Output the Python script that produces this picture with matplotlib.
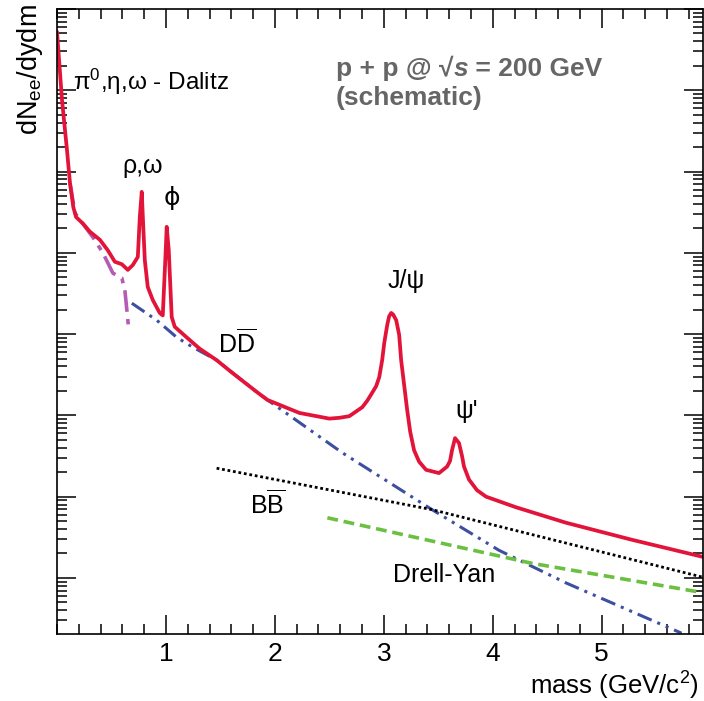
import numpy as np
import matplotlib
matplotlib.use("Agg")
import matplotlib.pyplot as plt
from matplotlib.ticker import LogLocator, NullFormatter, MultipleLocator, FixedLocator, FixedFormatter

plt.rcParams['font.family'] = ['Liberation Sans', 'DejaVu Sans']
plt.rcParams['mathtext.fontset'] = 'custom'
plt.rcParams['mathtext.rm'] = 'Liberation Sans'
plt.rcParams['mathtext.it'] = 'Liberation Sans:italic'
plt.rcParams['mathtext.bf'] = 'Liberation Sans:bold'
plt.rcParams['mathtext.default'] = 'regular'

# ---- data (mass in GeV/c^2, log10 of dN/dydm, arbitrary units) ----
total_mass = [0.000, 0.046, 0.092, 0.119, 0.150, 0.175, 0.238, 0.302, 0.394, 0.467, 0.531,
              0.595, 0.650, 0.696, 0.742, 0.760, 0.778, 0.788, 0.806, 0.833, 0.879,
              0.943, 0.971, 0.998, 1.007, 1.026, 1.053, 1.081, 1.190, 1.310, 1.465,
              1.612, 1.832, 1.932, 2.225, 2.500, 2.592, 2.683, 2.802, 2.848, 2.894, 2.930,
              2.958, 2.985, 3.004, 3.031, 3.049, 3.068, 3.086, 3.114, 3.141, 3.159, 3.187,
              3.214, 3.242, 3.278, 3.324, 3.388, 3.507, 3.581, 3.608, 3.626, 3.654, 3.690,
              3.718, 3.736, 3.782, 3.855, 3.938, 4.212, 4.670, 5.275, 5.925]
total_log = [6.72, 5.88, 5.26, 4.86, 4.56, 4.44, 4.36, 4.26, 4.16, 4.03, 3.89,
             3.86, 3.79, 3.85, 3.95, 4.44, 4.75, 4.44, 3.91, 3.58, 3.42,
             3.26, 3.23, 4.03, 4.32, 4.03, 3.21, 3.09, 2.96, 2.82, 2.68,
             2.52, 2.29, 2.19, 2.03, 1.96, 1.97, 1.99, 2.10, 2.18, 2.28, 2.36,
             2.47, 2.68, 2.89, 3.11, 3.22, 3.26, 3.24, 3.17, 2.99, 2.68, 2.37,
             2.07, 1.80, 1.57, 1.43, 1.33, 1.29, 1.37, 1.44, 1.57, 1.72, 1.66,
             1.50, 1.37, 1.21, 1.08, 1.00, 0.87, 0.68, 0.47, 0.26]

dalitz_mass = [0.119, 0.165, 0.330, 0.421, 0.513, 0.595, 0.623, 0.641, 0.659]
dalitz_log = [4.86, 4.49, 4.19, 4.00, 3.75, 3.69, 3.54, 3.30, 3.05]

dd_mass = [0.687, 0.916, 1.099, 1.245, 1.465, 1.832, 1.932, 2.619, 3.443, 4.057, 4.670, 5.733]
dd_log = [3.38, 3.17, 2.96, 2.84, 2.68, 2.29, 2.19, 1.54, 0.84, 0.34, -0.06, -0.68]

bb_mass = [1.465, 3.443, 5.925]
bb_log = [1.35, 0.84, 0.01]

dy_mass = [2.482, 4.359, 5.925]
dy_log = [0.74, 0.18, -0.18]

x_ticks = [1, 2, 3, 4, 5]
x_ticklabels = ['1', '2', '3', '4', '5']

# ---- figure ----
fig = plt.figure(figsize=(7.04, 7.01), dpi=100)
ax = fig.add_axes([57/704, 1-634/701, (703-57)/704, 625/701])

def lin(v):
    return 10 ** np.asarray(v)

ax.plot(dd_mass, lin(dd_log), color='#3d4f9f', lw=2.2, linestyle=(0, (5, 2, 1, 2, 1, 2)))
ax.plot(bb_mass, lin(bb_log), color='black', lw=2.0, linestyle=(0, (1, 1)))
ax.plot(dy_mass, lin(dy_log), color='#6cc041', lw=2.6, linestyle=(0, (3, 1.6)))
ax.plot(dalitz_mass, lin(dalitz_log), color='#b55bb3', lw=2.6, linestyle=(0, (6, 2, 1.5, 2)))
ax.plot(total_mass, lin(total_log), color='#e3143a', lw=2.7, solid_joinstyle='round',
        solid_capstyle='round')

ax.set_yscale('log')
ax.set_xlim(0, 5.93)
ax.set_ylim(10 ** -0.69, 10 ** 7.0)

ax.xaxis.set_major_locator(FixedLocator(x_ticks))
ax.xaxis.set_major_formatter(FixedFormatter(x_ticklabels))
ax.xaxis.set_minor_locator(MultipleLocator(0.2))
ax.yaxis.set_major_locator(LogLocator(base=10, numticks=20))
ax.yaxis.set_minor_locator(LogLocator(base=10, subs=np.arange(2, 10), numticks=20))
ax.yaxis.set_major_formatter(NullFormatter())
ax.yaxis.set_minor_formatter(NullFormatter())

ax.tick_params(which='both', direction='in', top=True, right=True, width=1.1, colors='black')
ax.tick_params(which='major', length=14)
ax.tick_params(which='minor', length=7)
ax.tick_params(axis='x', which='major', pad=6, labelsize=19)
for s in ax.spines.values():
    s.set_linewidth(1.2)

# axis titles
fig.text(699/704, 1-686/701, 'mass (GeV/c$^2$)', ha='right', va='center', fontsize=18.5)
fig.text(30/704, 1-4/701, 'dN$_{ee}$/dydm', ha='center', va='top', rotation=90, fontsize=19.5)

# labels
def px(xp, yp):
    return (xp/704, 1-yp/701)

fig.text(*px(73, 82), 'π$^0$,η,ω - Dalitz', ha='left', va='center', fontsize=17.5)
fig.text(*px(143, 166), 'ρ,ω', ha='center', va='center', fontsize=18)
fig.text(*px(172, 198), 'ϕ', ha='center', va='center', fontsize=18, family=['DejaVu Sans'])
fig.text(*px(237, 343), r'D$\overline{\mathrm{D}}$', ha='center', va='center', fontsize=18)
fig.text(*px(406, 281), 'J/ψ', ha='center', va='center', fontsize=18)
fig.text(*px(467, 411), "ψ'", ha='center', va='center', fontsize=18)
fig.text(*px(268, 504), r'B$\overline{\mathrm{B}}$', ha='center', va='center', fontsize=18)
fig.text(*px(393, 575), 'Drell-Yan', ha='left', va='center', fontsize=18)

gray = '#666666'
t1 = fig.text(*px(336, 68), 'p + p @ √', ha='left', va='center', fontsize=19,
              fontweight='bold', color=gray)
t2 = ax.annotate('s', xy=(1, 0), xycoords=t1, ha='left', va='bottom', fontsize=19,
                 fontweight='bold', fontstyle='italic', color=gray)
t3 = ax.annotate(' = 200 GeV', xy=(1, 0), xycoords=t2, ha='left', va='bottom', fontsize=19,
                 fontweight='bold', color=gray)
fig.text(*px(336, 98), '(schematic)', ha='left', va='center', fontsize=19,
         fontweight='bold', color=gray)

fig.savefig('out.png', dpi=100)
